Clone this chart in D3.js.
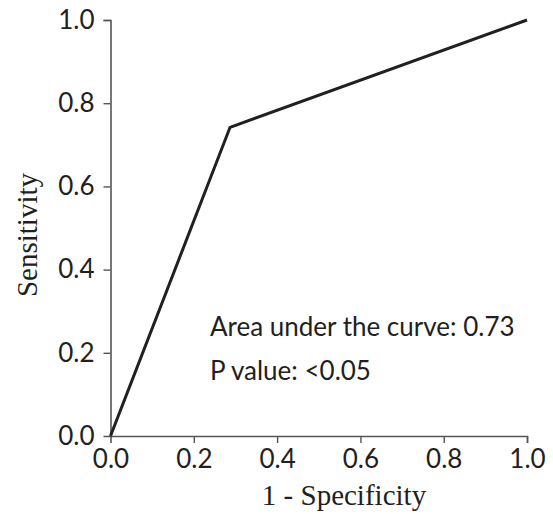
<!DOCTYPE html>
<html>
<head>
<meta charset="utf-8">
<script src="https://cdn.jsdelivr.net/npm/d3@7"></script>
<style>
  html, body { margin: 0; padding: 0; background: #fff; }
  svg { display: block; }
</style>
</head>
<body>
<svg id="chart" width="553" height="514"></svg>
<script>
// ROC curve points (1 - specificity, sensitivity)
const fpr = [0.0, 0.287, 1.0];
const tpr = [0.0, 0.742, 1.0];
const xTicks = [0.0, 0.2, 0.4, 0.6, 0.8, 1.0];
const yTicks = [0.0, 0.2, 0.4, 0.6, 0.8, 1.0];
const annotations = ["Area under the curve: 0.73", "P value: <0.05"];
const xTitle = "1 - Specificity";
const yTitle = "Sensitivity";

const svg = d3.select("#chart");
const x = d3.scaleLinear().domain([0, 1]).range([110.5, 527]);
const y = d3.scaleLinear().domain([0, 1]).range([436, 20]);

const tickFont = "Lato, 'Open Sans', sans-serif";
const ink = "#231f20";
const axisColor = "#555";

// Y axis
const gy = svg.append("g")
  .attr("transform", `translate(${x(0)},0)`)
  .call(d3.axisLeft(y).tickValues(yTicks).tickFormat(d3.format(".1f")).tickSize(7).tickPadding(9));
// X axis
const gx = svg.append("g")
  .attr("transform", `translate(0,${y(0)})`)
  .call(d3.axisBottom(x).tickValues(xTicks).tickFormat(d3.format(".1f")).tickSize(7).tickPadding(7));

[gx, gy].forEach(g => {
  g.select(".domain").attr("stroke", axisColor).attr("stroke-width", 1.6);
  g.selectAll(".tick line").attr("stroke", axisColor).attr("stroke-width", 1.4)
    .attr("display", d => d === 0 ? "none" : null);
  g.selectAll(".tick text").attr("fill", ink).attr("font-family", tickFont).attr("font-size", 26);
});

// ROC line
const pts = fpr.map((f, i) => [f, tpr[i]]);
svg.append("path")
  .datum(pts)
  .attr("fill", "none")
  .attr("stroke", ink)
  .attr("stroke-width", 3)
  .attr("stroke-linejoin", "miter")
  .attr("d", d3.line().x(d => x(d[0])).y(d => y(d[1])));

// Annotations
svg.selectAll("text.ann")
  .data(annotations)
  .join("text")
  .attr("class", "ann")
  .attr("x", 210)
  .attr("y", (d, i) => 336 + i * 44)
  .attr("fill", ink)
  .attr("font-family", tickFont)
  .attr("font-size", 26)
  .text(d => d);

// Axis titles
svg.append("text")
  .attr("x", 344)
  .attr("y", 505)
  .attr("text-anchor", "middle")
  .attr("fill", ink)
  .attr("font-family", "'Liberation Serif', 'Times New Roman', serif")
  .attr("font-size", 29)
  .text(xTitle);

svg.append("text")
  .attr("transform", "translate(37,235) rotate(-90)")
  .attr("text-anchor", "middle")
  .attr("fill", ink)
  .attr("font-family", "'Liberation Serif', 'Times New Roman', serif")
  .attr("font-size", 29)
  .text(yTitle);
</script>
</body>
</html>
